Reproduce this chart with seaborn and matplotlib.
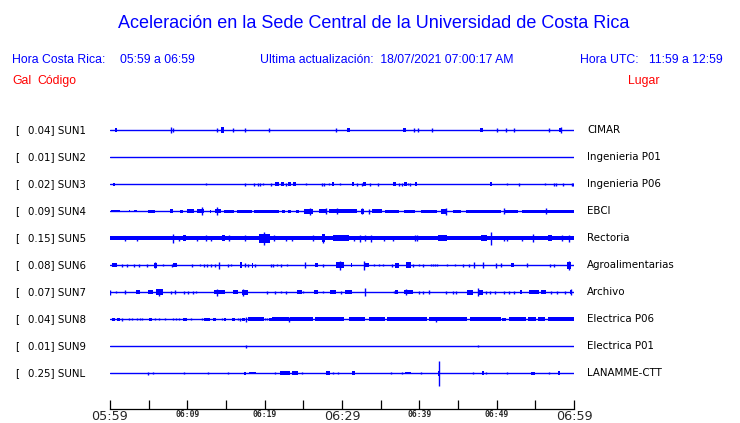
import matplotlib
matplotlib.use("Agg")
import pandas as pd
import matplotlib.pyplot as plt
import seaborn as sns

# Station info
codes = ["SUN1", "SUN2", "SUN3", "SUN4", "SUN5", "SUN6", "SUN7", "SUN8", "SUN9", "SUNL"]
gal = [0.04, 0.01, 0.02, 0.09, 0.15, 0.08, 0.07, 0.04, 0.01, 0.25]
places = ["CIMAR", "Ingenieria P01", "Ingenieria P06", "EBCI", "Rectoria",
          "Agroalimentarias", "Archivo", "Electrica P06", "Electrica P01", "LANAMME-CTT"]
tick_labels = ["05:59", "06:09", "06:19", "06:29", "06:39", "06:49", "06:59"]

# (start minute, end minute, half amplitude in px)
sun1_seg = [(0.6, 0.9, 1.5), (14.4, 14.8, 2.7), (30.6, 31.0, 1.5), (37.9, 38.3, 2),
            (47.8, 48.2, 2.3), (58.1, 58.5, 2.2)]
sun1_spk = [(7.95, 3), (8.2, 1.5), (13.8, 1.5), (15.9, 1.5), (17.4, 1.5), (20.6, 1.5),
            (29.2, 1.5), (39.3, 2), (39.8, 1.5), (41.7, 1.5), (50.1, 1.5), (51.2, 1.5),
            (52.3, 1.5), (56.8, 1.5), (58.3, 2.6)]
sun2_seg = []
sun2_spk = []
sun3_seg = [(0.4, 0.65, 1.5), (21.4, 21.8, 1.8), (22.1, 22.5, 1.8), (23.05, 23.35, 1.8),
            (23.7, 24.1, 1.8), (28.65, 28.95, 1.6), (31.25, 31.55, 1.6), (32.75, 33.05, 1.6),
            (36.6, 36.95, 1.8), (38.05, 38.35, 1.6), (39.4, 39.75, 1.8), (49.1, 49.35, 1.6)]
sun3_spk = [(12.4, 1.2), (17.4, 1.5), (18.6, 1.5), (19.1, 1.5), (19.4, 1.5), (19.8, 1.2),
            (20.8, 1.5), (22.8, 1.5), (25.3, 1.2), (27.4, 1.5), (27.7, 1.5), (28.3, 1.2),
            (29.7, 1.2), (32.0, 1.5), (32.6, 1.5), (33.6, 1.5), (34.7, 1.5), (37.4, 1.5),
            (37.8, 1.5), (38.5, 1.2), (38.8, 1.5), (51.4, 1.2), (52.9, 1.5), (56.2, 1.2),
            (57.4, 1.5), (57.7, 1.5), (58.6, 1.5), (59.7, 1.5), (59.9, 1.5)]
sun4_seg = [(0.1, 1.3, 1.2), (2.4, 2.5, 1.2), (3.1, 3.5, 1.2), (4.9, 5.8, 1.5), (7.8, 8.2, 1.8),
            (9.0, 9.5, 1.5), (10.0, 10.9, 1.8), (11.2, 12.1, 2), (12.9, 13.0, 1.5),
            (13.6, 14.3, 2), (14.7, 16.0, 1.5), (16.4, 18.4, 1.5), (18.6, 21.8, 1.5),
            (22.3, 22.6, 1.5), (23.0, 23.4, 1.5), (24.0, 24.4, 1.5), (25.1, 26.3, 2.5),
            (27.0, 28.0, 2), (28.3, 30.4, 2.2), (29.8, 32.0, 1.8), (32.4, 32.8, 2.5),
            (33.9, 35.2, 1.8), (35.6, 37.4, 1.5), (38.0, 39.5, 1.5), (40.2, 42.3, 1.5),
            (42.8, 43.6, 2.5), (44.3, 45.4, 1.5), (46.0, 50.5, 1.5), (51.0, 52.7, 1.5),
            (53.3, 55.7, 1.5), (55.7, 60.0, 1.5)]
sun4_spk = [(11.9, 4), (13.9, 4), (25.9, 3.5), (27.9, 3), (29.4, 3), (32.6, 3), (33.5, 2.5),
            (43.4, 3.5), (50.9, 3), (56.4, 3)]
sun5_seg = [(0.0, 60.0, 2.1), (9.4, 9.8, 3.2), (14.5, 14.9, 3.2), (19.3, 20.7, 4.5),
            (27.4, 27.8, 4), (28.9, 30.9, 2.8), (42.4, 43.6, 3.2), (48.0, 48.8, 3.2),
            (56.7, 57.2, 3.2)]
sun5_spk = [(2.0, 2.5), (3.5, 2.5), (8.1, 4.5), (8.9, 2.5), (11.2, 2.5), (12.35, 3),
            (13.0, 2.5), (15.4, 3), (17.5, 3), (19.9, 6.5), (21.25, 3), (22.7, 2.5),
            (23.5, 2.5), (26.3, 3), (27.6, 4.5), (31.5, 2.5), (32.3, 3.5), (33.0, 3),
            (33.8, 3.5), (35.4, 2.5), (36.6, 2.5), (39.4, 3), (39.7, 3), (49.3, 6.5),
            (51.0, 2.5), (51.4, 2.5), (53.3, 2.5), (54.7, 4), (58.4, 3), (59.4, 3.5)]
sun6_seg = [(0.2, 0.9, 2), (5.7, 6.1, 2.5), (8.2, 8.6, 2), (16.8, 17.1, 3), (18.3, 18.5, 2.5),
            (26.5, 26.9, 2), (29.2, 30.2, 3), (29.8, 30.1, 2), (31.1, 31.3, 2), (33.0, 33.5, 2),
            (36.9, 37.4, 2.5), (38.3, 38.9, 3), (51.8, 52.3, 2), (59.1, 59.6, 3.5)]
sun6_spk = [(1.5, 1.5), (2.2, 1.5), (3.1, 1.5), (3.8, 1.5), (4.75, 1.5), (5.8, 3), (6.9, 1.2),
            (8.0, 1.5), (10.6, 1.5), (11.7, 1.2), (12.2, 1.5), (12.5, 1.5), (13.1, 1.5),
            (13.6, 1.5), (14.1, 3.5), (15.3, 1.5), (15.6, 1.2), (17.4, 2), (17.8, 1.5),
            (18.7, 1.5), (20.8, 1.5), (21.1, 1.5), (21.6, 1.2), (22.1, 1.5), (22.9, 1),
            (25.2, 3), (27.6, 1.5), (29.7, 4.5), (32.8, 4.5), (34.1, 1.2), (34.8, 1.2),
            (35.3, 1.2), (36.5, 1.5), (39.2, 1.5), (40.0, 1.2), (40.5, 1.5), (41.5, 1.2),
            (41.8, 1.2), (42.0, 1.2), (42.3, 1.2), (43.6, 1.2), (44.6, 1.2), (45.7, 1.5),
            (46.4, 1.5), (47.1, 3), (48.2, 3), (49.9, 2.5), (50.5, 2), (53.9, 1.8),
            (56.9, 1.5), (57.4, 1.5), (59.3, 4.5)]
sun7_seg = [(3.3, 3.9, 2), (4.97, 5.5, 2), (6.0, 6.9, 3), (13.4, 14.9, 2), (15.9, 16.5, 2),
            (17.1, 17.8, 2.5), (24.2, 24.8, 2), (26.4, 26.9, 2), (28.4, 29.2, 2),
            (30.4, 31.3, 2), (36.8, 37.3, 2), (38.0, 39.2, 2), (46.1, 46.9, 2.5),
            (47.6, 48.2, 2.5), (53.0, 53.3, 2), (54.2, 55.5, 2), (55.7, 56.4, 2),
            (59.5, 59.8, 2)]
sun7_spk = [(0.05, 2.5), (0.73, 1.2), (1.9, 2), (6.4, 3.5), (7.9, 1.5), (8.4, 2), (9.6, 1.5),
            (10.1, 1.5), (10.7, 1.5), (11.1, 1.2), (13.9, 3.5), (17.2, 3.5), (20.3, 1.5),
            (21.3, 1.5), (22.1, 1.2), (22.8, 1.5), (25.0, 1.2), (27.6, 1.2), (29.9, 1.5),
            (33.0, 4), (36.7, 1.2), (38.3, 3), (40.0, 1.5), (40.5, 1.5), (41.3, 2),
            (43.5, 1.5), (44.3, 1.5), (44.7, 1.5), (47.6, 4), (48.6, 1.5), (49.2, 1.5),
            (49.8, 1.5), (51.0, 1.5), (51.6, 1.5), (52.2, 1.5), (57.0, 1.5), (57.8, 1.5),
            (58.9, 1.5), (59.6, 3)]
sun8_seg = [(0.2, 0.65, 1.5), (0.86, 1.3, 1.5), (5.0, 5.4, 1.5), (9.5, 9.9, 1.5),
            (12.2, 12.96, 1.5), (13.3, 13.7, 1.5), (14.7, 15.0, 1.5), (15.8, 16.2, 1.5),
            (17.1, 17.5, 1.5), (17.9, 19.9, 1.8), (20.5, 21.0, 1.5), (21.0, 23.1, 1.8),
            (23.3, 26.3, 1.8), (26.5, 30.3, 1.8), (30.9, 33.0, 1.8), (33.5, 35.6, 1.8),
            (35.8, 41.0, 1.8), (41.2, 46.2, 1.8), (46.6, 50.5, 1.8), (50.7, 51.2, 1.5),
            (51.6, 53.8, 1.8), (54.0, 55.1, 1.8), (55.3, 56.2, 1.8), (56.6, 60.0, 1.8)]
sun8_spk = [(1.5, 1.5), (2.4, 1.2), (2.9, 1.2), (3.5, 1.2), (3.9, 1.2), (4.2, 1.2), (5.8, 1.2),
            (6.3, 1.2), (7.1, 1.2), (8.2, 1.2), (8.5, 1.2), (8.9, 1.2), (10.5, 1.2),
            (11.9, 1.2), (14.5, 1.2), (16.5, 1.2), (16.8, 1.5), (17.6, 2.5), (20.0, 1.2),
            (20.3, 1.2), (23.2, 2.5), (42.2, 2.5)]
sun9_seg = []
sun9_spk = [(17.6, 1.5), (47.6, 1.2)]
sunl_seg = [(17.3, 17.6, 1.5), (18.0, 18.9, 1.2), (22.0, 23.3, 2), (23.5, 24.3, 2),
            (27.9, 28.5, 2), (31.3, 31.7, 2), (38.2, 38.9, 1.2), (42.35, 42.65, 2.5),
            (48.05, 48.35, 2), (54.4, 54.9, 1.5), (57.95, 58.25, 2)]
sunl_spk = [(4.97, 1.5), (5.6, 1.2), (9.6, 1.2), (12.7, 1.2), (15.3, 1.2), (21.4, 1.2),
            (24.8, 1.2), (28.9, 1.2), (29.5, 1.2), (36.4, 1.2), (37.8, 1.2), (40.2, 1.2),
            (42.5, 12.5), (46.9, 1.2), (48.6, 1.2), (51.4, 1.2), (56.8, 1.2)]

segments = [sun1_seg, sun2_seg, sun3_seg, sun4_seg, sun5_seg,
            sun6_seg, sun7_seg, sun8_seg, sun9_seg, sunl_seg]
spikes = [sun1_spk, sun2_spk, sun3_spk, sun4_spk, sun5_spk,
          sun6_spk, sun7_spk, sun8_spk, sun9_spk, sunl_spk]

blue = "#0000ff"
red = "#ff0000"
px = 1 / 27  # one pixel in trace units (traces are 27 px apart)

sns.set_style("white")
plt.rcParams["font.family"] = ["DejaVu Sans"]

fig = plt.figure(figsize=(7.4, 4.23), dpi=100)
ax = fig.add_axes([110 / 740, 14 / 423, 464 / 740, 293 / 423])

# Baselines
base = pd.DataFrame({
    "minute": [0, 60] * len(codes),
    "level": [-i for i in range(len(codes)) for _ in range(2)],
    "station": [c for c in codes for _ in range(2)],
})
sns.lineplot(data=base, x="minute", y="level", hue="station", palette=[blue] * len(codes),
             legend=False, linewidth=1.0, estimator=None, ax=ax)

# Bursts
for i in range(len(codes)):
    seg = pd.DataFrame(segments[i], columns=["start", "end", "amp"])
    if len(seg):
        ax.bar(seg["start"], 2 * seg["amp"] * px, width=(seg["end"] - seg["start"]).clip(lower=0.13),
               bottom=-i - seg["amp"] * px, align="edge", color=blue, linewidth=0)
    spk = pd.DataFrame(spikes[i], columns=["t", "amp"])
    if len(spk):
        ax.vlines(spk["t"], -i - spk["amp"] * px, -i + spk["amp"] * px, color=blue, linewidth=1.0)

ax.set_xlim(0, 60)
ax.set_ylim(-10.333, 0.5185)
ax.set_yticks([])
ax.set_xlabel("")
ax.set_ylabel("")
for s in ["top", "left", "right"]:
    ax.spines[s].set_visible(False)
ax.spines["bottom"].set_color("black")
ax.spines["bottom"].set_linewidth(0.9)

ax.set_xticks(range(0, 61, 5))
ax.set_xticklabels([tick_labels[k // 2] if k % 2 == 0 else "" for k in range(13)])
ax.tick_params(axis="x", direction="in", length=6.5, width=0.9, color="black", pad=1,
               bottom=True)
for k, lab in enumerate(ax.get_xticklabels()):
    if k in (0, 6, 12):
        lab.set_fontsize(9.2)
        lab.set_fontfamily("DejaVu Sans")
    else:
        lab.set_fontsize(5.8)
        lab.set_fontfamily("DejaVu Sans Mono")
        lab.set_fontweight("bold")

# Station labels
tr = ax.get_yaxis_transform()
for i in range(len(codes)):
    ax.text(-0.2047, -i, "[", transform=tr, fontsize=7.4, va="center", ha="left", color="black")
    ax.text(-0.1774, -i, f"{gal[i]:.2f}] {codes[i]}", transform=tr, fontsize=7.4,
            va="center", ha="left", color="black")
    ax.text(1.028, -i, places[i], transform=tr, fontsize=7.4, va="center", ha="left",
            color="black")

# Header
def ftext(x, y, s, **kw):
    fig.text(x / 740, 1 - y / 423, s, family="Liberation Sans", va="center", **kw)

ftext(374, 23, "Aceleración en la Sede Central de la Universidad de Costa Rica",
      fontsize=13, color=blue, ha="center")
ftext(12, 60, "Hora Costa Rica:", fontsize=8.8, color=blue, ha="left")
ftext(120, 60, "05:59 a 06:59", fontsize=8.8, color=blue, ha="left")
ftext(260, 60, "Ultima actualización:  18/07/2021 07:00:17 AM", fontsize=8.8, color=blue,
      ha="left")
ftext(580, 60, "Hora UTC:", fontsize=8.8, color=blue, ha="left")
ftext(723, 60, "11:59 a 12:59", fontsize=8.8, color=blue, ha="right")
ftext(12, 81, "Gal", fontsize=8.8, color=red, ha="left")
ftext(37, 81, "Código", fontsize=8.8, color=red, ha="left")
ftext(628, 81, "Lugar", fontsize=8.8, color=red, ha="left")

plt.savefig("out.png", dpi=100)
